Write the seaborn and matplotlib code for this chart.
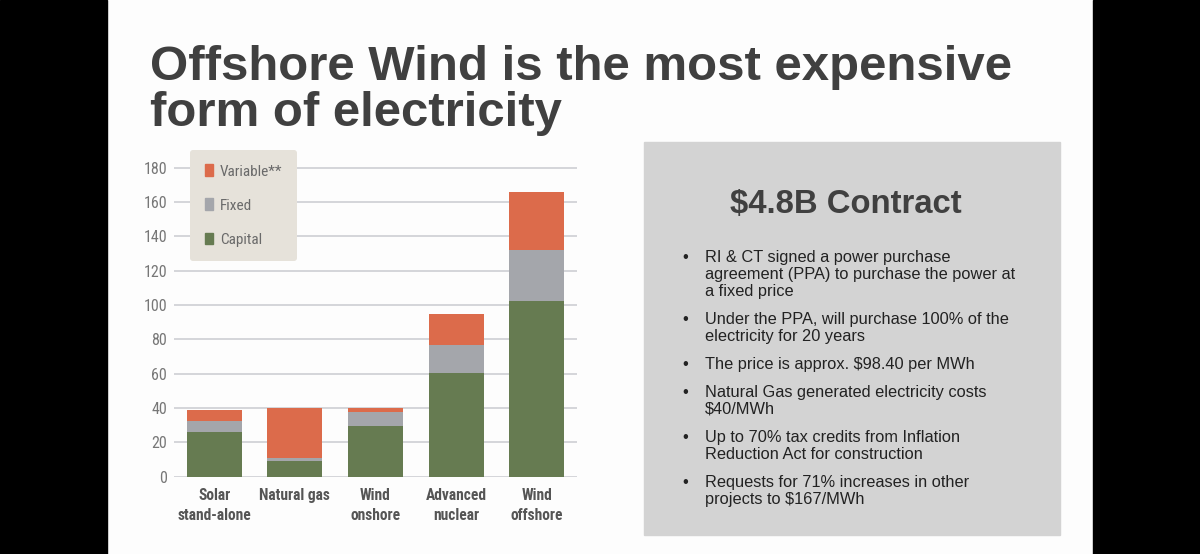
import numpy as np
import pandas as pd
import seaborn as sns
from matplotlib import pyplot as plt
from matplotlib import font_manager
from matplotlib.patches import Rectangle, Patch

sns.set_style("white")
plt.rcParams['font.family'] = ['Liberation Sans', 'DejaVu Sans']

categories = ["Solar\nstand-alone", "Natural gas", "Wind\nonshore", "Advanced\nnuclear", "Wind\noffshore"]
capital = [26.3, 9.4, 29.8, 60.4, 102.2]
fixed = [6.4, 1.5, 7.6, 16.2, 29.6]
variable = [6.3, 28.9, 2.8, 17.9, 33.7]
yticks = [0, 20, 40, 60, 80, 100, 120, 140, 160, 180]
legend_labels = ["Variable**", "Fixed", "Capital"]

title_lines = ["Offshore Wind is the most expensive", "form of electricity"]
box_title = "$4.8B Contract"
bullets = [
    "RI & CT signed a power purchase\nagreement (PPA) to purchase the power at\na fixed price",
    "Under the PPA, will purchase 100% of the\nelectricity for 20 years",
    "The price is approx. \\$98.40 per MWh",
    "Natural Gas generated electricity costs\n\\$40/MWh",
    "Up to 70% tax credits from Inflation\nReduction Act for construction",
    "Requests for 71% increases in other\nprojects to \\$167/MWh",
]

c_green = "#667b51"
c_gray = "#a4a6ab"
c_orange = "#dc6b4b"

# narrow font for the chart labels, if one is there
installed = {(f.name, f.stretch) for f in font_manager.fontManager.ttflist}
names = {n for n, s in installed}
narrow, stretch = "Roboto", "normal"
for cand in ["Liberation Sans Narrow", "Roboto Condensed", "Open Sans Condensed", "Noto Sans Condensed"]:
    if cand in names:
        narrow = cand
        break
else:
    if any(n == "DejaVu Sans" and s == "condensed" for n, s in installed):
        narrow, stretch = "DejaVu Sans", "condensed"

df = pd.DataFrame({"cat": categories, "capital": capital, "fixed": fixed, "variable": variable})
df["cf"] = df["capital"] + df["fixed"]
df["total"] = df["cf"] + df["variable"]

fig = plt.figure(figsize=(12, 5.54), dpi=100)
fig.patch.set_facecolor("#fdfdfd")

# black side bars of the screenshot
fig.add_artist(Rectangle((0, 0), 107 / 1200, 1, transform=fig.transFigure, color="black", zorder=0))
fig.add_artist(Rectangle((1093 / 1200, 0), 107 / 1200, 1, transform=fig.transFigure, color="black", zorder=0))

for yb, line in zip([80, 126], title_lines):
    fig.text(150 / 1200, 1 - yb / 554, line, fontsize=35.4, fontweight="bold", color="#404040",
             va="baseline", ha="left")

ax = fig.add_axes([174 / 1200, 1 - 476.7 / 554, 403 / 1200, 310 / 554])
ax.set_facecolor("none")
for col, c in [("total", c_orange), ("cf", c_gray), ("capital", c_green)]:
    sns.barplot(data=df, x="cat", y=col, color=c, width=0.68, saturation=1, linewidth=0, ax=ax, zorder=3)
ax.set_xlim(-0.5, 4.5)
ax.set_ylim(0, 180.5)
ax.set_yticks(yticks)
ax.set_xlabel("")
ax.set_ylabel("")
ax.grid(axis="y", color="#d4d5da", linewidth=1.4, zorder=0)
sns.despine(ax=ax, left=True, bottom=True, top=True, right=True)
ax.tick_params(axis="y", length=0, pad=5, labelsize=11.5, labelcolor="#777777")
ax.tick_params(axis="x", length=0, pad=8, labelsize=11.2, labelcolor="#555555")
for lab in ax.get_yticklabels():
    lab.set_family(narrow)
    lab.set_stretch(stretch)
for lab in ax.get_xticklabels():
    lab.set_family(narrow)
    lab.set_stretch(stretch)
    lab.set_fontweight("bold")
    lab.set_linespacing(1.45)
    lab.set_verticalalignment("top")

handles = [Patch(color=c, label=l) for c, l in zip([c_orange, c_gray, c_green], legend_labels)]
leg = ax.legend(handles=handles, loc="upper left", bbox_to_anchor=(0.04, 1.054), frameon=True,
                fancybox=True, facecolor="#e6e2da", edgecolor="none", framealpha=1,
                borderaxespad=0, handlelength=0.55, handleheight=0.8, handletextpad=0.45,
                labelspacing=1.3, borderpad=0.95, prop={"family": narrow, "stretch": stretch, "size": 11})
for t in leg.get_texts():
    t.set_color("#6a6a6a")
leg.set_zorder(5)

# gray text box
fig.add_artist(Rectangle((644 / 1200, 1 - 535 / 554), 416 / 1200, 393 / 554,
                         transform=fig.transFigure, color="#d3d3d3", zorder=1))
fig.text(846 / 1200, 1 - 212.7 / 554, box_title, fontsize=23.7, fontweight="bold", color="#404040",
         ha="center", va="baseline")
first_baselines = [261.7, 324.3, 369.3, 396.7, 441.7, 486.7]
for yb, txt in zip(first_baselines, bullets):
    top = 1 - (yb - 12) / 554
    fig.text(682 / 1200, top, "\u2022", fontsize=11.8, color="#222222", va="top")
    fig.text(705 / 1200, top, txt, fontsize=11.8, color="#222222", va="top", linespacing=1.18)

fig.savefig("out.png", dpi=100, facecolor=fig.get_facecolor())
